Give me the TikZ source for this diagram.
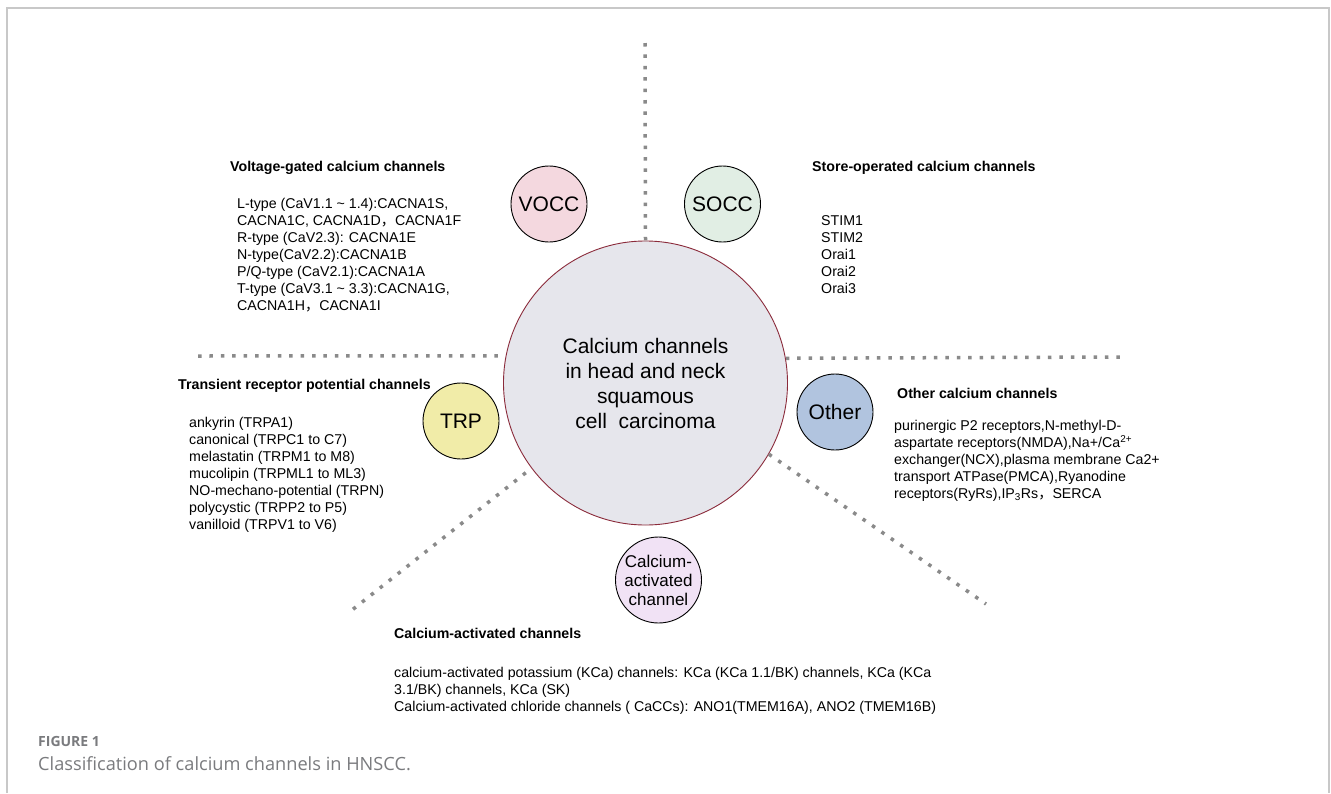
\documentclass[tikz,border=0pt]{standalone}
\usepackage{fontspec}
\setmainfont{Liberation Sans}
\newfontfamily\cjk{Noto Sans CJK SC}
\newfontfamily\capfont{Open Sans}
\definecolor{dotgray}{HTML}{8A8A8A}
\definecolor{framegray}{HTML}{C8C8C8}
\definecolor{capgray}{HTML}{7A7B7E}
\definecolor{mainfill}{HTML}{E6E6EC}
\definecolor{mainedge}{HTML}{8B2B3B}
\definecolor{voccfill}{HTML}{F4D8DF}
\definecolor{soccfill}{HTML}{E1EEE4}
\definecolor{trpfill}{HTML}{F1ECA8}
\definecolor{otherfill}{HTML}{B1C4DF}
\definecolor{cafill}{HTML}{F1E2F5}
\begin{document}
\begin{tikzpicture}[x=1pt,y=-1pt,
  sep/.style={draw=dotgray, line width=3.5pt, dash pattern=on 3.5pt off 7.9pt},
  sub/.style={circle, draw=black, line width=0.9pt, minimum size=76pt, inner sep=0pt, font=\fontsize{21}{25}\selectfont},
  ttl/.style={anchor=base west, inner sep=0pt, font=\bfseries\fontsize{14.2}{17}\selectfont},
  body/.style={anchor=north west, inner sep=0pt, align=left, font=\fontsize{14.2}{17}\selectfont},
]
\useasboundingbox (0,0) rectangle (1331,793);
\fill[white] (0,0) rectangle (1331,793);
% frame
\draw[framegray, line width=1.2pt] (7,793) -- (7,8) -- (1329,8) -- (1329,793);

% main circle
\node[circle, draw=mainedge, fill=mainfill, line width=0.9pt, minimum size=284pt, inner sep=0pt,
      align=center, font=\fontsize{21}{25}\selectfont] (main) at (645.5,383)
  {Calcium channels\\in head and neck\\squamous\\cell\ \ carcinoma};

% separators
\coordinate (topEnd) at (645,43);
\coordinate (leftEnd) at (198,356);
\coordinate (rightEnd) at (1121,357);
\coordinate (llEnd) at (347,614);
\coordinate (lrEnd) at (986,604);
\draw[sep] (topEnd) -- (main.north);
\draw[sep] (leftEnd) -- (main.169);
\draw[sep] (main.10.5) -- (rightEnd);
\draw[sep] ([shift={(-6,4)}]main.217) -- (llEnd);
\draw[sep] (main.-30) -- (lrEnd);

% satellite circles
\node[sub, fill=voccfill] (vocc) at (549,204) {VOCC};
\node[sub, fill=soccfill] (socc) at (722.5,204) {SOCC};
\node[sub, fill=trpfill] (trp) at (461,421) {TRP};
\node[sub, fill=otherfill] (other) at (835,412) {Other};
\node[sub, fill=cafill, minimum size=86pt, align=center, font=\fontsize{17}{19}\selectfont] (ca) at (658.5,580)
  {Calcium-\\activated\\channel};

% VOCC text
\node[ttl] (voccT) at (230,171) {Voltage-gated calcium channels};
\node[body] (voccB) at (237,198) {L-type (CaV1.1 \textasciitilde{} 1.4):CACNA1S,\\
CACNA1C, CACNA1D{\cjk ，}CACNA1F\\
R-type (CaV2.3): CACNA1E\\
N-type(CaV2.2):CACNA1B\\
P/Q-type (CaV2.1):CACNA1A\\
T-type (CaV3.1 \textasciitilde{} 3.3):CACNA1G,\\
CACNA1H{\cjk ，}CACNA1I};

% SOCC text
\node[ttl] (soccT) at (812,171) {Store-operated calcium channels};
\node[body] (soccB) at (821,215) {STIM1\\STIM2\\Orai1\\Orai2\\Orai3};

% TRP text
\node[ttl] (trpT) at (178,389) {Transient receptor potential channels};
\node[body] (trpB) at (189,417) {ankyrin (TRPA1)\\
canonical (TRPC1 to C7)\\
melastatin (TRPM1 to M8)\\
mucolipin (TRPML1 to ML3)\\
NO-mechano-potential (TRPN)\\
polycystic (TRPP2 to P5)\\
vanilloid (TRPV1 to V6)};

% Other text
\node[ttl] (otherT) at (897,398) {Other calcium channels};
\node[body] (otherB) at (894,420) {purinergic P2 receptors,N-methyl-D-\\
aspartate receptors(NMDA),Na+/Ca\textsuperscript{2+}\\
exchanger(NCX),plasma membrane Ca2+\\
transport ATPase(PMCA),Ryanodine\\
receptors(RyRs),IP\textsubscript{3}Rs{\cjk ，}SERCA};

% Calcium-activated text
\node[ttl] (caT) at (394,638) {Calcium-activated channels};
\node[body] (caB) at (394,667) {calcium-activated potassium (KCa) channels: KCa (KCa 1.1/BK) channels, KCa (KCa\\
3.1/BK) channels, KCa (SK)\\
Calcium-activated chloride channels ( CaCCs): ANO1(TMEM16A), ANO2 (TMEM16B)};

% caption
\node[anchor=base west, inner sep=0pt, text=capgray, font=\capfont\bfseries\fontsize{14}{17}\selectfont] (fig) at (38,746) {FIGURE 1};
\node[anchor=base west, inner sep=0pt, text=capgray, font=\capfont\fontsize{18.2}{22}\selectfont] (cap) at (38,770) {Classification of calcium channels in HNSCC.};
\end{tikzpicture}
\end{document}
